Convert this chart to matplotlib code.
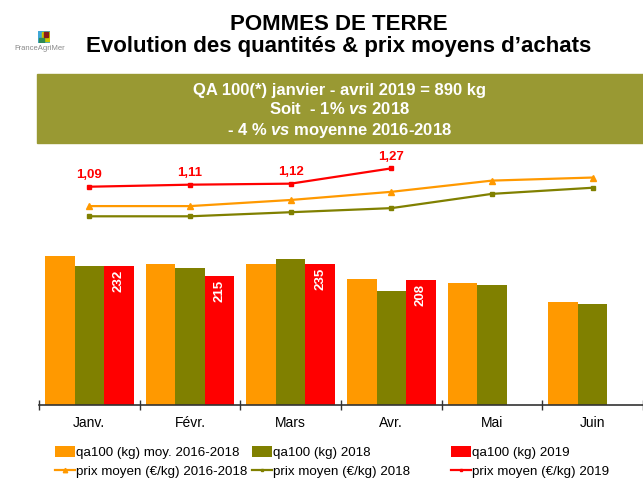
import matplotlib
matplotlib.use("Agg")
import matplotlib.pyplot as plt
import matplotlib.patches as mpatches
import numpy as np

plt.rcParams['font.family'] = ['Liberation Sans', 'DejaVu Sans']
plt.rcParams['mathtext.fontset'] = 'custom'
plt.rcParams['mathtext.rm'] = 'Liberation Sans'
plt.rcParams['mathtext.bf'] = 'Liberation Sans:bold'
plt.rcParams['mathtext.it'] = 'Liberation Sans:italic'
plt.rcParams['mathtext.bfit'] = 'Liberation Sans:italic:bold'

months = ["Janv.", "Févr.", "Mars", "Avr.", "Mai", "Juin"]
qa_moy = [249, 235, 236, 211, 203, 172]
qa_2018 = [232, 229, 243, 191, 200, 169]
qa_2019 = [232, 215, 235, 208]
prix_moy = [0.90, 0.90, 0.96, 1.04, 1.15, 1.18]
prix_2018 = [0.80, 0.80, 0.84, 0.88, 1.02, 1.08]
prix_2019 = [1.09, 1.11, 1.12, 1.27]

c_orange = "#FF9900"
c_olive = "#808000"
c_red = "#FF0000"
c_box = "#999933"

W, H = 643, 480
fig = plt.figure(figsize=(6.43, 4.8), dpi=100)

# titles
fig.text(339/W, 1 - 30/H, "POMMES DE TERRE", ha="center", va="baseline",
         fontsize=16, fontweight="bold")
fig.text(339/W, 1 - 52/H, "Evolution des quantités & prix moyens d\u2019achats",
         ha="center", va="baseline", fontsize=16, fontweight="bold")

# logo
logo = fig.add_axes([38/W, 1 - 43/H, 12/W, 12/H])
logo.add_patch(mpatches.Rectangle((0, 0), 1, 1, color="#3fa7d6"))
logo.add_patch(mpatches.Rectangle((0.3, 0.2), 0.6, 0.7, color="#c8c800"))
logo.add_patch(mpatches.Rectangle((0.1, 0.0), 0.4, 0.4, color="#2e8b57"))
logo.add_patch(mpatches.Rectangle((0.5, 0.5), 0.3, 0.4, color="#8b1a1a"))
logo.set_xlim(0, 1)
logo.set_ylim(0, 1)
logo.axis("off")
fig.text(40/W, 1 - 49/H, "FranceAgriMer", ha="center", va="center",
         fontsize=5.5, color="#888888")

# banner
fig.patches.append(mpatches.Rectangle((37/W, 1 - 143/H), (W - 37)/W, 69/H,
                                      transform=fig.transFigure, color=c_box, zorder=0))
banner = ["QA 100(*) janvier - avril 2019 = 890 kg",
          r"Soit  - 1% $\mathbfit{vs}$ 2018",
          r"- 4 % $\mathbfit{vs}$ moyenne 2016-2018"]
for i, line in enumerate(banner):
    fig.text(340/W, 1 - (94.5 + 20 * i)/H, line, ha="center", va="baseline",
             color="white", fontsize=12, fontweight="bold")

# bars
ax = fig.add_axes([39/W, 75/H, (W - 39)/W, 255/H])
x = np.arange(len(months))
bw = 0.293
b1 = ax.bar(x - bw, qa_moy, bw, color=c_orange, label="qa100 (kg) moy. 2016-2018")
b2 = ax.bar(x, qa_2018, bw, color=c_olive, label="qa100 (kg) 2018")
x19 = np.arange(len(qa_2019))
b3 = ax.bar(x19 + bw, qa_2019, bw, color=c_red, label="qa100 (kg) 2019")
for xi, v in zip(x19, qa_2019):
    ax.text(xi + bw, v - 6, str(v), rotation=90, ha="center", va="top",
            color="white", fontsize=9.5, fontweight="bold")

ax.set_xlim(-0.5, 5.5)
ax.set_ylim(0, 425.7)
ax.set_yticks([])
for s in ["top", "right", "left"]:
    ax.spines[s].set_visible(False)
ax.spines["bottom"].set_color("#333333")
ax.spines["bottom"].set_linewidth(1.2)
ax.set_xticks(x)
ax.set_xticklabels(months, fontsize=10)
ax.tick_params(axis="x", which="major", length=0, pad=8)
ax.set_xticks(np.arange(-0.5, 5.6, 1), minor=True)
ax.tick_params(axis="x", which="minor", length=7, direction="inout",
               color="#333333", width=1)

# prices
ax2 = ax.twinx()
ax2.set_ylim(-1.05, 1.45)
ax2.axis("off")
l1, = ax2.plot(x, prix_moy, color=c_orange, lw=1.6, marker="^", ms=4,
               label="prix moyen (\u20ac/kg) 2016-2018")
l2, = ax2.plot(x, prix_2018, color=c_olive, lw=1.6, marker="s", ms=2.5,
               label="prix moyen (\u20ac/kg) 2018")
l3, = ax2.plot(x19, prix_2019, color=c_red, lw=1.6, marker="s", ms=2.5,
               label="prix moyen (\u20ac/kg) 2019")
for xi, p in zip(x19, prix_2019):
    ax2.annotate(f"{p:.2f}".replace(".", ","), (xi, p), xytext=(0, 4),
                 textcoords="offset points", ha="center", va="bottom",
                 color=c_red, fontsize=9.5, fontweight="bold")

# legend, three columns
cols = [(b1, l1, 55), (b2, l2, 252), (b3, l3, 451)]
for bar, line, px in cols:
    fig.legend([bar, line], [bar.get_label(), line.get_label()], loc="upper left",
               bbox_to_anchor=(px/W, 1 - 446/H), frameon=False, fontsize=9.6,
               handlelength=1.5, handletextpad=0.1, borderpad=0,
               borderaxespad=0, labelspacing=0.42, handleheight=0.9,
               markerscale=0.8)

fig.savefig("out.png", dpi=100)
